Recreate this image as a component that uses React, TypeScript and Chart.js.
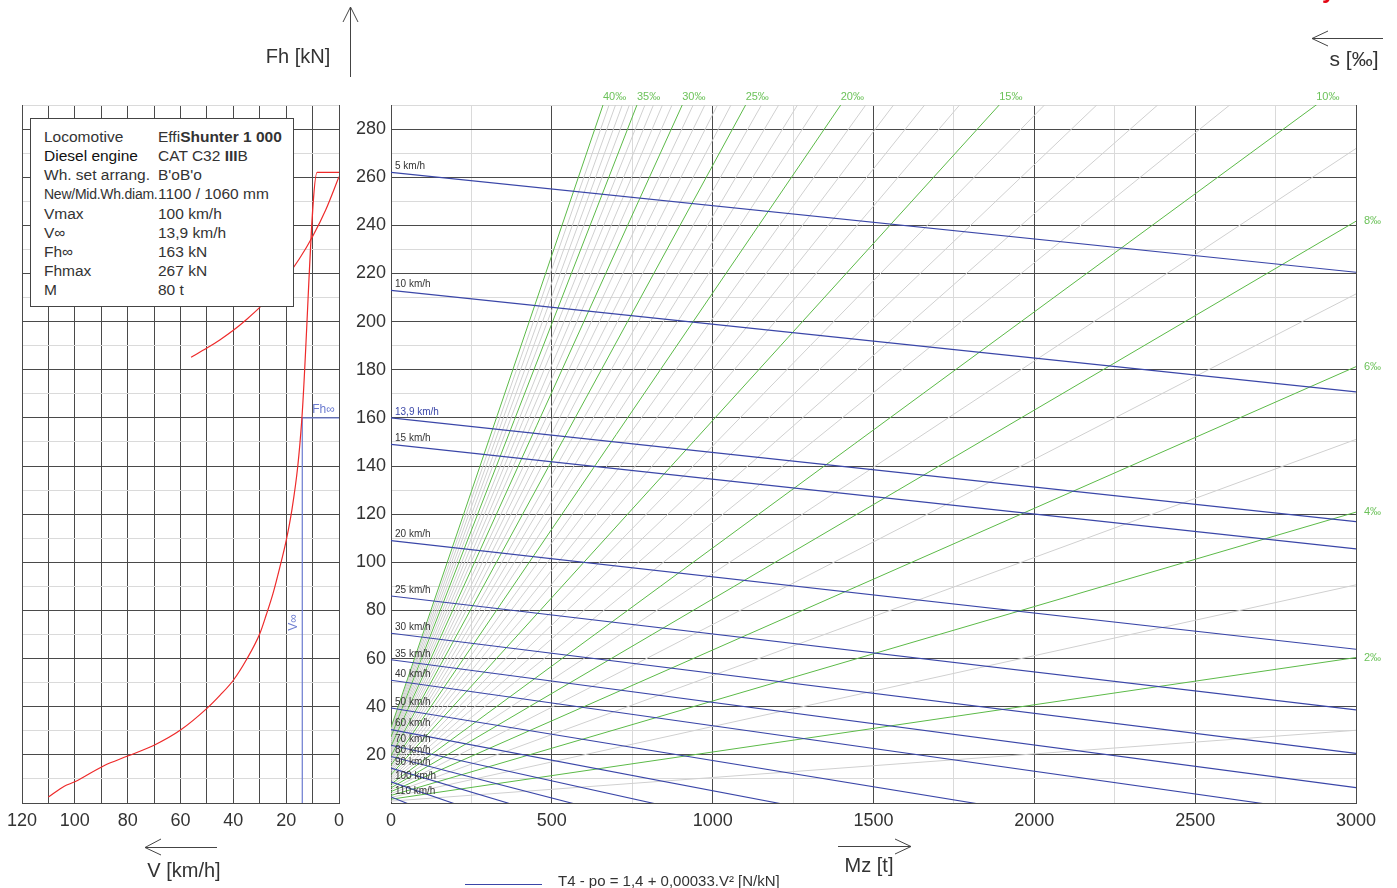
import React, { useEffect, useRef } from "react";
import { Chart, registerables } from "chart.js";

Chart.register(...registerables);

// ---------------- data ----------------
// traction-speed lines (blue) in the Mz / Fh nomogram
const speedKmh = [5, 10, 13.9, 15, 20, 25, 30, 35, 40, 50, 60, 70, 80, 90, 100, 110];
const speedLabels = [
  "5 km/h", "10 km/h", "13,9 km/h", "15 km/h", "20 km/h", "25 km/h", "30 km/h", "35 km/h",
  "40 km/h", "50 km/h", "60 km/h", "70 km/h", "80 km/h", "90 km/h", "100 km/h", "110 km/h",
];
const speedFhAt0t = [262, 213, 160, 149, 109, 86, 70.5, 59.5, 51, 39.5, 30.5, 24, 19.3, 14.5, 8.8, 2.5];
const speedFhAt3000t = [220.5, 170.8, 116.9, 105.6, 63.9, 38.7, 20.6, 6.4, -5.7, -26, -45.7, -64.8, -84.1, -105.4, -129.5, -156.2];

// gradient lines s [‰]
const grades = [1, 2, 3, 4, 5, 6, 7, 8, 9, 10, 11, 12, 13, 14, 15, 16, 17, 18, 19, 20, 21, 22, 23, 24, 25, 26, 27, 28, 29, 30, 31, 32, 33, 34, 35, 36, 37, 38, 39, 40];
const gradeFhAt0t = [0.78, 1.57, 2.35, 3.14, 3.92, 4.71, 5.49, 6.28, 7.06, 7.85, 8.63, 9.42, 10.2, 10.99, 11.77, 12.56, 13.34, 14.13, 14.91, 15.7, 16.48, 17.27, 18.05, 18.84, 19.62, 20.4, 21.19, 21.97, 22.76, 23.54, 24.33, 25.11, 25.9, 26.68, 27.47, 28.25, 29.04, 29.82, 30.61, 31.39];
const gradeFhAt3000t = [30.21, 60.43, 90.64, 120.86, 151.07, 181.29, 211.5, 241.72, 271.93, 302.15, 332.36, 362.58, 392.79, 423.01, 453.22, 483.44, 513.65, 543.87, 574.08, 604.3, 634.51, 664.73, 694.94, 725.16, 755.37, 785.58, 815.8, 846.01, 876.23, 906.44, 936.66, 966.87, 997.09, 1027.3, 1057.52, 1087.73, 1117.95, 1148.16, 1178.38, 1208.59];
const labelledGrades = [2, 4, 6, 8, 10, 15, 20, 25, 30, 35, 40];

// traction characteristic (left panel)
const tractionV = [0, 8.3, 14.1, 15.6, 17.8, 20, 22.5, 25, 27.5, 30, 35, 40, 45, 50, 60, 70, 80, 89, 100, 104, 110];
const tractionFh = [262, 262, 159, 140, 122, 109, 97.5, 87, 78.3, 70.3, 59.6, 51, 44.8, 39.3, 30.3, 24, 19.5, 15.5, 8.8, 7, 2.5];
// adhesion limit (left panel)
const adhesionV = [56, 50, 45, 40, 35, 30, 25, 20, 15, 10, 5, 0];
const adhesionFh = [185.2, 189, 192.5, 196.4, 200.9, 205.9, 211.7, 218.3, 226.1, 235.4, 246.5, 260.2];
const vInf = 13.9;
const fhInf = 160;

// tick labels
const vTickLabels = [120, 100, 80, 60, 40, 20, 0];
const mzTickLabels = [0, 500, 1000, 1500, 2000, 2500, 3000];
const fhTickLabels = [20, 40, 60, 80, 100, 120, 140, 160, 180, 200, 220, 240, 260, 280];

const infoRows: [string, React.ReactNode][] = [
  ["Locomotive", <span>Effi<b>Shunter 1 000</b></span>],
  ["Diesel engine", <span>CAT C32 <b>III</b>B</span>],
  ["Wh. set arrang.", "B'oB'o"],
  ["New/Mid.Wh.diam.", "1100 / 1060 mm"],
  ["Vmax", "100 km/h"],
  ["V∞", "13,9 km/h"],
  ["Fh∞", "163 kN"],
  ["Fhmax", "267 kN"],
  ["M", "80 t"],
];

// ---------------- styles ----------------
const FONT = "'Liberation Sans', Arial, Helvetica, sans-serif";
const DARK = "#4a4a4a";
const LIGHT = "#dadada";
const TXT = "#333333";
const BLUE = "#3a46a8";
const LBLUE = "#6b7bd0";
const GREEN = "#5cba48";
const GREEN_TXT = "#6cc25a";
const GRAY = "#d0d0d0";
const RED = "#ee2a2a";

const FH_MAX = 290;

function pts(xs: number[], ys: number[]) {
  return xs.map((x, i) => ({ x, y: ys[i] }));
}

function leftConfig(): any {
  const labelPlugin = {
    id: "leftLabels",
    afterDatasetsDraw(chart: any) {
      const { ctx, scales } = chart;
      const x = scales.x, y = scales.y;
      ctx.save();
      ctx.fillStyle = LBLUE;
      ctx.font = `12px ${FONT}`;
      ctx.textBaseline = "middle";
      ctx.textAlign = "left";
      ctx.fillText("Fh∞", x.getPixelForValue(vInf) + 10, y.getPixelForValue(fhInf) - 8);
      ctx.translate(x.getPixelForValue(vInf) - 9, y.getPixelForValue(75));
      ctx.rotate(-Math.PI / 2);
      ctx.textAlign = "center";
      ctx.fillText("V∞", 0, 0);
      ctx.restore();
    },
  };
  return {
    type: "scatter",
    data: {
      datasets: [
        { data: pts(tractionV, tractionFh), showLine: true, borderColor: RED, borderWidth: 1.2, pointRadius: 0, cubicInterpolationMode: "monotone" },
        { data: pts(adhesionV, adhesionFh), showLine: true, borderColor: RED, borderWidth: 1.2, pointRadius: 0, cubicInterpolationMode: "monotone" },
        {
          data: pts([vInf, vInf, 0], [0, fhInf, fhInf]),
          showLine: true, borderColor: LBLUE, borderWidth: 1.2, pointRadius: 0,
        },
      ],
    },
    options: {
      animation: false,
      responsive: false,
      maintainAspectRatio: false,
      layout: { padding: { top: 105, right: 21, left: 0, bottom: 0 } },
      plugins: { legend: { display: false }, tooltip: { enabled: false } },
      scales: {
        x: {
          type: "linear", min: 0, max: 120, reverse: true,
          afterFit: (s: any) => { s.height = 85; },
          ticks: {
            stepSize: 10, autoSkip: false, maxRotation: 0, padding: 7,
            font: { family: FONT, size: 18 }, color: TXT,
            callback: (v: any) => (vTickLabels.includes(v) ? String(v) : ""),
          },
          grid: { drawTicks: false, color: DARK, lineWidth: 1 },
          border: { display: true, color: DARK },
        },
        y: {
          type: "linear", min: 0, max: FH_MAX,
          afterFit: (s: any) => { s.width = 20; },
          ticks: { stepSize: 10, display: false, autoSkip: false },
          grid: { drawTicks: false, color: (c: any) => (c.tick && c.tick.value % 20 === 0 ? DARK : LIGHT), lineWidth: 1 },
          border: { display: true, color: DARK },
        },
      },
    },
    plugins: [labelPlugin],
  };
}

function rightConfig(): any {
  const speedSets = speedKmh.map((v, i) => ({
    data: [{ x: 0, y: speedFhAt0t[i] }, { x: 3000, y: speedFhAt3000t[i] }],
    showLine: true, borderColor: BLUE, borderWidth: 1.1, pointRadius: 0,
  }));
  const greenSets: any[] = [];
  const graySets: any[] = [];
  grades.forEach((s, i) => {
    const ds = {
      data: [{ x: 0, y: gradeFhAt0t[i] }, { x: 3000, y: gradeFhAt3000t[i] }],
      showLine: true, borderWidth: 1, pointRadius: 0,
      borderColor: labelledGrades.includes(s) ? GREEN : GRAY,
    };
    (labelledGrades.includes(s) ? greenSets : graySets).push(ds);
  });

  const labelPlugin = {
    id: "rightLabels",
    afterDatasetsDraw(chart: any) {
      const { ctx, chartArea, scales } = chart;
      const x = scales.x, y = scales.y;
      ctx.save();
      ctx.textBaseline = "middle";
      ctx.textAlign = "left";
      ctx.font = `10px ${FONT}`;
      speedLabels.forEach((t, i) => {
        ctx.fillStyle = speedKmh[i] === vInf ? BLUE : TXT;
        ctx.fillText(t, x.getPixelForValue(0) + 4, y.getPixelForValue(speedFhAt0t[i]) - 6);
      });
      ctx.font = `11px ${FONT}`;
      ctx.fillStyle = GREEN_TXT;
      labelledGrades.forEach((s) => {
        const i = grades.indexOf(s);
        const a = gradeFhAt0t[i];
        const b = gradeFhAt3000t[i];
        if (b > y.max) {
          const mz = x.max * (y.max - a) / (b - a);
          ctx.fillText(`${s}‰`, x.getPixelForValue(mz), chartArea.top - 8);
        } else {
          ctx.fillText(`${s}‰`, chartArea.right + 8, y.getPixelForValue(b));
        }
      });
      ctx.restore();
    },
  };

  return {
    type: "scatter",
    data: { datasets: [...speedSets, ...greenSets, ...graySets] },
    options: {
      animation: false,
      responsive: false,
      maintainAspectRatio: false,
      layout: { padding: { top: 105, right: 41, left: 0, bottom: 0 } },
      plugins: { legend: { display: false }, tooltip: { enabled: false } },
      scales: {
        x: {
          type: "linear", min: 0, max: 3000,
          afterFit: (s: any) => { s.height = 85; },
          ticks: {
            stepSize: 250, autoSkip: false, maxRotation: 0, padding: 7,
            font: { family: FONT, size: 18 }, color: TXT,
            callback: (v: any) => (mzTickLabels.includes(v) ? String(v) : ""),
          },
          grid: { drawTicks: false, color: (c: any) => (c.tick && c.tick.value % 500 === 0 ? DARK : LIGHT), lineWidth: 1 },
          border: { display: true, color: DARK },
        },
        y: {
          type: "linear", min: 0, max: FH_MAX,
          afterFit: (s: any) => { s.width = 51; },
          ticks: {
            stepSize: 10, autoSkip: false, padding: 5,
            font: { family: FONT, size: 18 }, color: TXT,
            callback: (v: any) => (fhTickLabels.includes(v) ? String(v) : ""),
          },
          grid: { drawTicks: false, color: (c: any) => (c.tick && c.tick.value % 20 === 0 ? DARK : LIGHT), lineWidth: 1 },
          border: { display: true, color: DARK },
        },
      },
    },
    plugins: [labelPlugin],
  };
}

const abs = (o: React.CSSProperties): React.CSSProperties => ({ position: "absolute", ...o });

export default function App() {
  const leftRef = useRef<HTMLCanvasElement>(null);
  const rightRef = useRef<HTMLCanvasElement>(null);

  useEffect(() => {
    const l = new Chart(leftRef.current as HTMLCanvasElement, leftConfig());
    const r = new Chart(rightRef.current as HTMLCanvasElement, rightConfig());
    return () => {
      l.destroy();
      r.destroy();
    };
  }, []);

  const rowTop = (i: number) => 137 + i * 19.15 - 10;

  return (
    <div style={abs({ left: 0, top: 0, width: 1397, height: 888, overflow: "hidden", background: "#fff", fontFamily: FONT, color: TXT })}>
      <canvas ref={leftRef} width={360} height={888} style={abs({ left: 0, top: 0, width: 360, height: 888 })} />
      <canvas ref={rightRef} width={1057} height={888} style={abs({ left: 340, top: 0, width: 1057, height: 888 })} />

      {/* info box */}
      <div style={abs({ left: 30, top: 118, width: 264, height: 189, background: "#fff", border: "1px solid #444", boxSizing: "border-box" })} />
      {infoRows.map(([k, v], i) => (
        <React.Fragment key={i}>
          <div style={abs({ left: 44, top: rowTop(i), height: 20, lineHeight: "20px", whiteSpace: "nowrap", fontSize: i === 3 ? 14 : 15.5, letterSpacing: i === 3 ? -0.25 : 0, color: i === 1 ? "#111" : "#333" })}>{k}</div>
          <div style={abs({ left: 158, top: rowTop(i), height: 20, lineHeight: "20px", whiteSpace: "nowrap", fontSize: 15.5, color: "#333" })}>{v}</div>
        </React.Fragment>
      ))}

      {/* axis titles */}
      <div style={abs({ left: 238, top: 44, width: 120, textAlign: "center", fontSize: 20, lineHeight: "24px" })}>Fh [kN]</div>
      <div style={abs({ left: 124, top: 858, width: 120, textAlign: "center", fontSize: 20, lineHeight: "24px" })}>V [km/h]</div>
      <div style={abs({ left: 809, top: 853, width: 120, textAlign: "center", fontSize: 20, lineHeight: "24px" })}>Mz [t]</div>
      <div style={abs({ left: 1294, top: 47, width: 120, textAlign: "center", fontSize: 21, lineHeight: "24px" })}>s [‰]</div>

      {/* partially visible red mark at top right */}
      <div style={abs({ left: 1322, top: -24, fontSize: 24, fontWeight: "bold", color: "#e30613", lineHeight: "28px" })}>y</div>

      {/* legend */}
      <div style={abs({ left: 558, top: 872, fontSize: 15, lineHeight: "18px", whiteSpace: "nowrap", color: "#333" })}>T4 - po = 1,4 + 0,00033.V² [N/kN]</div>

      <svg width={1397} height={888} style={abs({ left: 0, top: 0, pointerEvents: "none" })}>
        <g stroke="#444" strokeWidth={1} fill="none">
          {/* Fh arrow (up) */}
          <line x1={350.5} y1={77} x2={350.5} y2={7} />
          <polyline points="343,22 350.5,7 358,22" />
          {/* V arrow (left) */}
          <line x1={217} y1={847.5} x2={145} y2={847.5} />
          <polyline points="161,839 145,847.5 161,855" />
          {/* Mz arrow (right) */}
          <line x1={838} y1={846.5} x2={911} y2={846.5} />
          <polyline points="895,839 911,846.5 895,854" />
          {/* s arrow (left) */}
          <line x1={1383} y1={38.5} x2={1312} y2={38.5} />
          <polyline points="1328,31 1312,38.5 1328,46" />
        </g>
        <line x1={465} y1={884.5} x2={542} y2={884.5} stroke={BLUE} strokeWidth={1} />
      </svg>
    </div>
  );
}
